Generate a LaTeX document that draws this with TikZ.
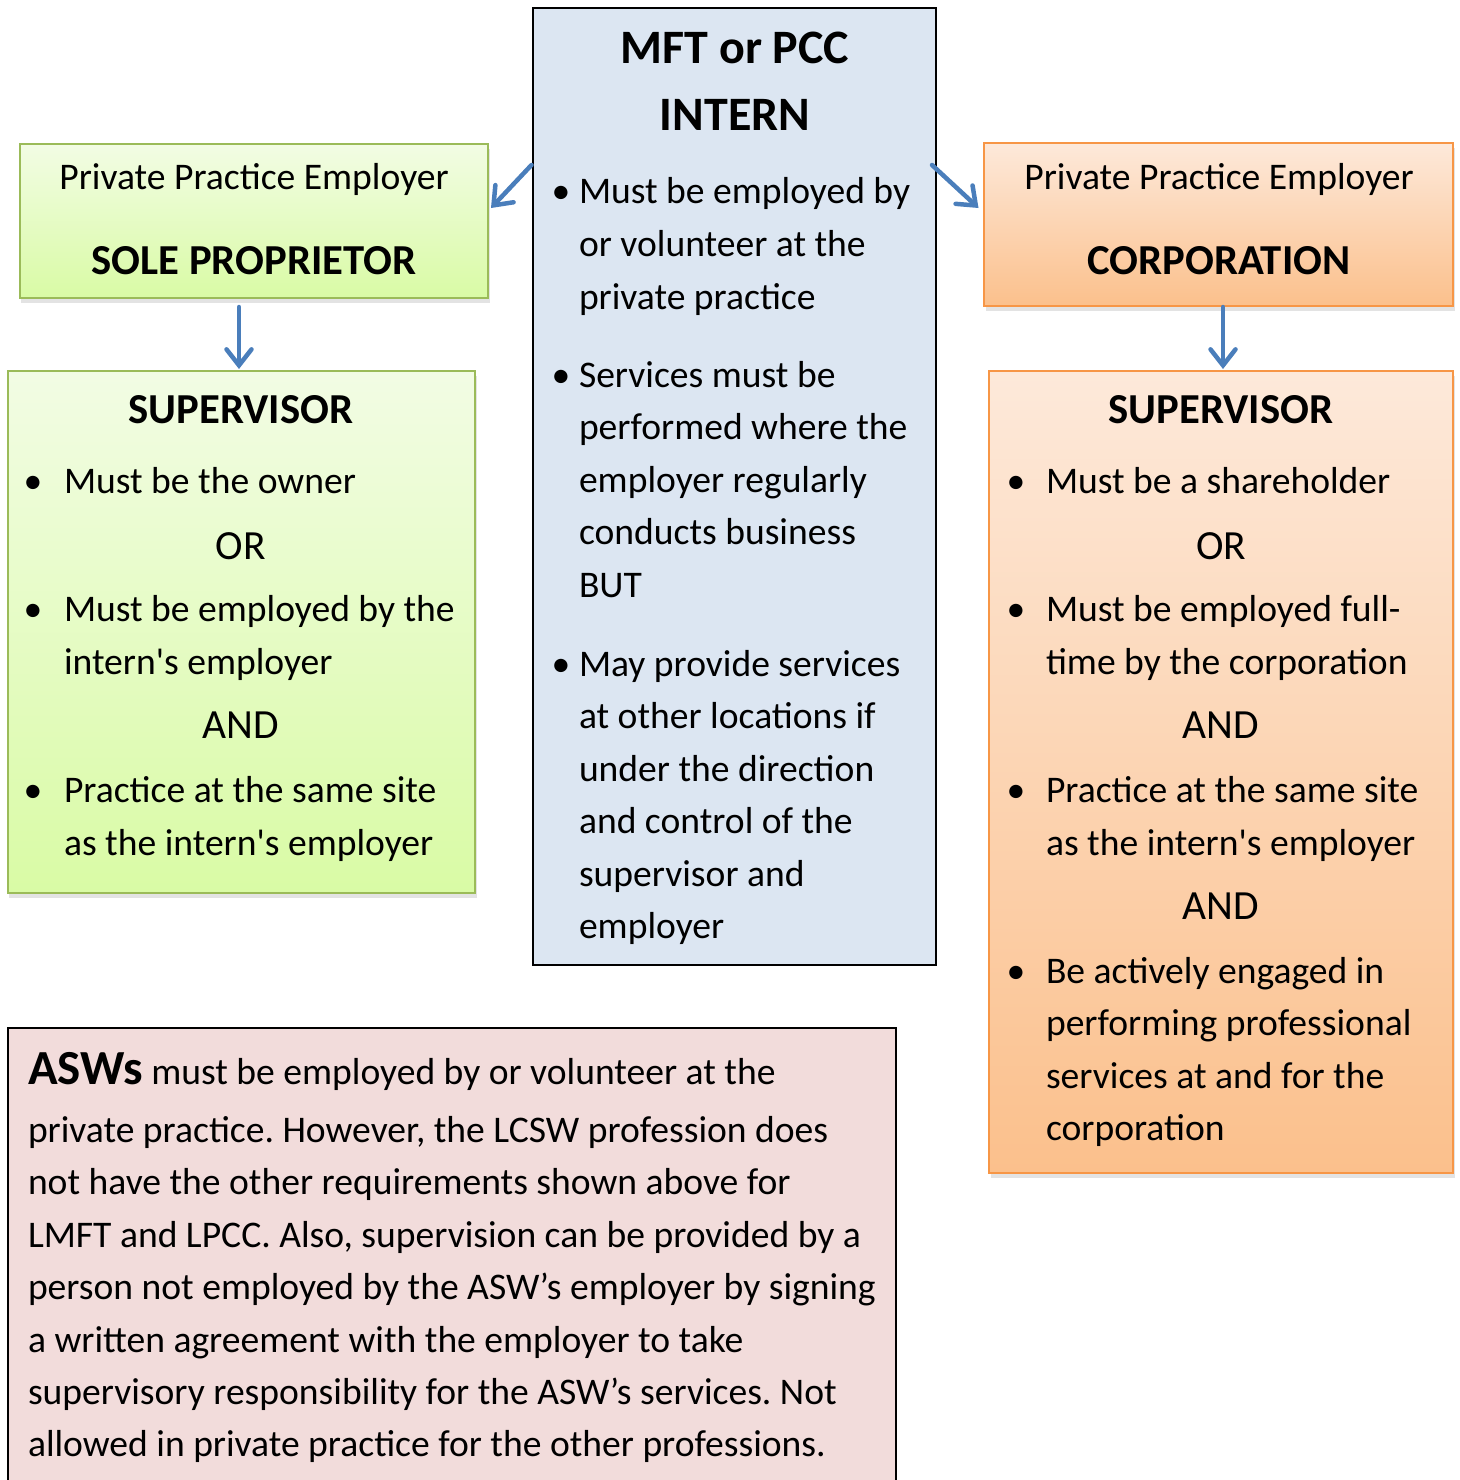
\documentclass[tikz,border=0pt]{standalone}
\usepackage{fontspec}
\setmainfont{Carlito}
\usetikzlibrary{arrows.meta,shadows}
\definecolor{greenline}{HTML}{9BBB59}
\definecolor{greentop}{HTML}{F2FCE4}
\definecolor{greenbot}{HTML}{D9FBA5}
\definecolor{orangeline}{HTML}{F79646}
\definecolor{orangetop}{HTML}{FDE9DA}
\definecolor{orangebot}{HTML}{FBC08C}
\definecolor{bluefill}{HTML}{DCE6F2}
\definecolor{pinkfill}{HTML}{F2DCDB}
\definecolor{arrowblue}{HTML}{4A7EBB}
\newcommand\bodyfnt{\fontsize{37.6bp}{52.5bp}\selectfont}
\newcommand\joinfnt{\fontsize{41.5bp}{52.5bp}\selectfont}
\newcommand\headfnt{\bfseries\fontsize{42.7bp}{50bp}\selectfont}
\newcommand\bigfnt{\bfseries\fontsize{48bp}{60bp}\selectfont}
\newcommand\aswfnt{\bfseries\fontsize{49bp}{60bp}\selectfont}
\newcommand\apos{\textquotesingle}
\frenchspacing
\tikzset{
  box/.style={rectangle, inner sep=0pt, outer sep=0pt},
  softshadow/.style={drop shadow={opacity=0.22, shadow xshift=1.5bp, shadow yshift=-5bp}},
  greenbox/.style={box, draw=greenline, line width=2.5bp, top color=greentop, bottom color=greenbot, softshadow},
  orangebox/.style={box, draw=orangeline, line width=2.5bp, top color=orangetop, bottom color=orangebot, softshadow},
  bluebox/.style={box, draw=black, line width=2bp, fill=bluefill},
  pinkbox/.style={box, draw=black, line width=2.5bp, fill=pinkfill},
  txt/.style={inner sep=0pt, outer sep=0pt, anchor=base west, font=\bodyfnt},
  ctxt/.style={inner sep=0pt, outer sep=0pt, anchor=base, font=\bodyfnt},
  jtxt/.style={inner sep=0pt, outer sep=0pt, anchor=base, font=\joinfnt},
  head/.style={inner sep=0pt, outer sep=0pt, anchor=base, font=\headfnt},
  bighead/.style={inner sep=0pt, outer sep=0pt, anchor=base, font=\bigfnt},
  bul/.style={inner sep=0pt, outer sep=0pt, anchor=base, font=\bodyfnt},
  conn/.style={draw=arrowblue, line width=4.5bp, line cap=round,
    -{Straight Barb[length=16bp, width=25bp, line cap=round]}},
}
\begin{document}
\begin{tikzpicture}[x=1bp, y=-1bp]
\useasboundingbox (0,0) rectangle (1460,1480);
% ---------- boxes ----------
\node[bluebox, minimum width=403bp, minimum height=957bp] (intern) at (734.5,486.5) {};
\node[greenbox, minimum width=468bp, minimum height=154bp] (sole) at (254,221) {};
\node[greenbox, minimum width=467bp, minimum height=522bp] (supL) at (241.5,632) {};
\node[orangebox, minimum width=469bp, minimum height=163bp] (corp) at (1218.5,224.5) {};
\node[orangebox, minimum width=464bp, minimum height=802bp] (supR) at (1221,772) {};
\node[pinkbox, minimum width=888bp, minimum height=470bp] (asw) at (452,1263) {};
% ---------- connectors ----------
\coordinate (aLs) at (531.5,165);
\coordinate (aLe) at (491,208);
\coordinate (aRs) at (932,165);
\coordinate (aRe) at (978.5,208);
\coordinate (dLs) at (239,307);
\coordinate (dLe) at (239,369);
\coordinate (dRs) at (1223,307);
\coordinate (dRe) at (1223,369);
\draw[conn] (aLs) -- (aLe);
\draw[conn] (aRs) -- (aRe);
\draw[conn] (dLs) -- (dLe);
\draw[conn] (dRs) -- (dRe);
% ---------- centre box ----------
\node[bighead] (t1) at (735,64) {MFT or PCC};
\node[bighead] (t2) at (735,131) {INTERN};
\node[bul] (cb1) at (561,204) {•};
\node[txt] (c11) at (579,204) {Must be employed by};
\node[txt] (c12) at (579,256.5) {or volunteer at the};
\node[txt] (c13) at (579,309) {private practice};
\node[bul] (cb2) at (561,387) {•};
\node[txt] (c21) at (579,387) {Services must be};
\node[txt] (c22) at (579,439.5) {performed where the};
\node[txt] (c23) at (579,492) {employer regularly};
\node[txt] (c24) at (579,544.5) {conducts business};
\node[txt] (c25) at (579,597) {BUT};
\node[bul] (cb3) at (561,676) {•};
\node[txt] (c31) at (579,676) {May provide services};
\node[txt] (c32) at (579,728.5) {at other locations if};
\node[txt] (c33) at (579,781) {under the direction};
\node[txt] (c34) at (579,833.5) {and control of the};
\node[txt] (c35) at (579,886) {supervisor and};
\node[txt] (c36) at (579,938.5) {employer};
% ---------- left top ----------
\node[ctxt] (l1) at (254,190) {Private Practice Employer};
\node[head] (l2) at (254,274) {SOLE PROPRIETOR};
% ---------- left supervisor ----------
\node[head] (ls) at (241,423) {SUPERVISOR};
\node[bul] (lb1) at (33,493) {•};
\node[txt] (ll1) at (64,493) {Must be the owner};
\node[jtxt] (lor) at (241,559) {OR};
\node[bul] (lb2) at (33,621) {•};
\node[txt] (ll2) at (64,621) {Must be employed by the};
\node[txt] (ll3) at (64,674) {intern\apos s employer};
\node[jtxt] (land) at (241,738) {AND};
\node[bul] (lb3) at (33,802) {•};
\node[txt] (ll4) at (64,802) {Practice at the same site};
\node[txt] (ll5) at (64,855) {as the intern\apos s employer};
% ---------- right top ----------
\node[ctxt] (r1) at (1219,190) {Private Practice Employer};
\node[head] (r2) at (1219,274) {CORPORATION};
% ---------- right supervisor ----------
\node[head] (rs) at (1221,423) {SUPERVISOR};
\node[bul] (rb1) at (1016,493) {•};
\node[txt] (rl1) at (1046,493) {Must be a shareholder};
\node[jtxt] (ror) at (1221,559) {OR};
\node[bul] (rb2) at (1016,621) {•};
\node[txt] (rl2) at (1046,621) {Must be employed full-};
\node[txt] (rl3) at (1046,674) {time by the corporation};
\node[jtxt] (rand1) at (1221,738) {AND};
\node[bul] (rb3) at (1016,802) {•};
\node[txt] (rl4) at (1046,802) {Practice at the same site};
\node[txt] (rl5) at (1046,855) {as the intern\apos s employer};
\node[jtxt] (rand2) at (1221,919) {AND};
\node[bul] (rb4) at (1016,983) {•};
\node[txt] (rl6) at (1046,983) {Be actively engaged in};
\node[txt] (rl7) at (1046,1035) {performing professional};
\node[txt] (rl8) at (1046,1088) {services at and for the};
\node[txt] (rl9) at (1046,1140) {corporation};
% ---------- bottom box ----------
\node[txt] (b1) at (28,1084) {{\aswfnt ASWs} must be employed by or volunteer at the};
\node[txt] (b2) at (28,1142) {private practice. However, the LCSW profession does};
\node[txt] (b3) at (28,1194) {not have the other requirements shown above for};
\node[txt] (b4) at (28,1247) {LMFT and LPCC. Also, supervision can be provided by a};
\node[txt] (b5) at (28,1299) {person not employed by the ASW’s employer by signing};
\node[txt] (b6) at (28,1352) {a written agreement with the employer to take};
\node[txt] (b7) at (28,1404) {supervisory responsibility for the ASW’s services. Not};
\node[txt] (b8) at (28,1456) {allowed in private practice for the other professions.};
\end{tikzpicture}
\end{document}
